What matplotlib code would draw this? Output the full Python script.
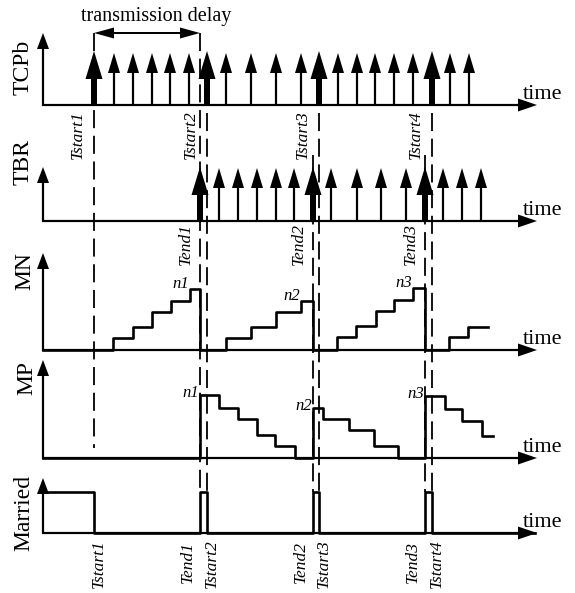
import matplotlib
matplotlib.use('Agg')
import matplotlib.pyplot as plt

plt.rcParams['font.family'] = ['Liberation Serif', 'DejaVu Serif']
plt.rcParams['lines.scale_dashes'] = False

# ---- data (time axis in picture units) ----
t_start = [94, 207, 319, 432]
t_end = [200, 313, 425]
start_labels = ['Tstart1', 'Tstart2', 'Tstart3', 'Tstart4']
end_labels = ['Tend1', 'Tend2', 'Tend3']

tcpb_pulses = [114, 133, 152, 170, 189, 226, 251, 276, 301,
               338, 357, 375, 394, 413, 450, 469]
tbr_pulses = [219, 238, 257, 276, 294, 331, 357, 381, 406, 443, 462, 481]

mn_t = [43, 113, 133, 152, 171, 190, 200, 226, 251, 276, 301, 313,
        337, 356, 376, 394, 413, 425, 449, 468, 488]
mn_v = [0, 12, 23, 38, 49, 61, 0, 12, 23, 38, 49, 0,
        13, 24, 39, 50, 62, 0, 13, 23, 23]

mp_t = [43, 200, 219, 238, 257, 275, 295, 313, 323, 349, 374, 398,
        425, 445, 462, 482, 493]
mp_v = [0, 63, 50, 39, 23, 12, 0, 50, 39, 28, 12, 0,
        62, 49, 37, 22, 22]

married_t = [43, 94, 200, 207, 313, 319, 425, 432, 535]
married_v = [41, 0, 41, 0, 41, 0, 41, 0, 0]

mn_peaks_t = [190, 301, 413]
mn_peaks_v = [61, 49, 62]
mp_peaks_t = [200, 313, 425]
mp_peaks_v = [63, 50, 62]
peak_labels = ['n1', 'n2', 'n3']

row_names = ['TCPb', 'TBR', 'MN', 'MP', 'Married']

# ---- layout ----
base = {'TCPb': 105, 'TBR': 221, 'MN': 350, 'MP': 458, 'Married': 533}
top = {'TCPb': 33, 'TBR': 167, 'MN': 253, 'MP': 360, 'Married': 478}
label_pos = {'TCPb': (23, 67), 'TBR': (23, 162), 'MN': (25, 271),
             'MP': (27, 378), 'Married': (24, 513)}
x0, x1 = 43, 537

fig = plt.figure(figsize=(5.75, 5.93), dpi=100)
ax = fig.add_axes([0, 0, 1, 1])
ax.set_xlim(0, 575)
ax.set_ylim(593, 0)
ax.axis('off')

K = 'black'


def arrow(x, y, dx, dy, w, hw, hl, z=3):
    ax.arrow(x, y, dx, dy, width=w, head_width=hw, head_length=hl,
             length_includes_head=True, fc=K, ec='none', lw=0, zorder=z)


# axes of each row
for name in row_names:
    b = base[name]
    arrow(x0, b + 1, 0, top[name] - b - 1, 2.2, 12, 16)
    arrow(x0 - 1, b, x1 - x0 + 1, 0, 2.2, 13, 19)
    ax.text(x1 - 14, b - 6, 'time', fontsize=16, ha='left', va='baseline')
    lx, ly = label_pos[name]
    ax.text(lx, ly, name, fontsize=17, rotation=90, ha='center', va='center')

# pulses
for x in tcpb_pulses:
    arrow(x, base['TCPb'], 0, -52, 2.2, 12, 20)
for x in t_start:
    arrow(x, base['TCPb'], 0, -54, 6, 17, 28)
for x in tbr_pulses:
    arrow(x, base['TBR'], 0, -53, 2.2, 12, 20)
for x in t_end:
    arrow(x, base['TBR'], 0, -54, 6, 17, 28)

# step signals
ax.plot(mn_t, [base['MN'] - v for v in mn_v], drawstyle='steps-post',
        color=K, lw=1.9, zorder=4)
ax.plot(mp_t, [base['MP'] - v for v in mp_v], drawstyle='steps-post',
        color=K, lw=1.9, zorder=4)
ax.plot(married_t, [base['Married'] - v for v in married_v],
        drawstyle='steps-post', color=K, lw=1.9, zorder=4)

# peak labels
for x, v, s in zip(mn_peaks_t, mn_peaks_v, peak_labels):
    ax.text(x - 1, base['MN'] - v - 1, s, fontsize=12, style='italic',
            ha='right', va='baseline')
for x, v, s in zip(mp_peaks_t, mp_peaks_v, peak_labels):
    ax.text(x - 1, base['MP'] - v + 2, s, fontsize=12, style='italic',
            ha='right', va='baseline')

# dashed event lines
dash = (0, (13, 5.5))
for i, x in enumerate(t_start):
    y_top = top['TCPb'] if i == 0 else base['TCPb'] + 8
    y_bot = base['MP'] - 10 if i == 0 else base['Married'] - 41
    ax.plot([x, x], [y_top, y_bot], ls=dash, color=K, lw=1.3, zorder=2)
for i, x in enumerate(t_end):
    y_top = top['TCPb'] if i == 0 else top['TBR'] - 12
    ax.plot([x, x], [y_top, base['Married'] - 41], ls=dash, color=K,
            lw=1.3, zorder=2)

# transmission delay
mid = (t_start[0] + t_end[0]) / 2
arrow(mid, top['TCPb'], t_start[0] - mid, 0, 2, 11, 20)
arrow(mid, top['TCPb'], t_end[0] - mid, 0, 2, 11, 20)
ax.text(mid + 9, 17, 'transmission delay', fontsize=14.5, ha='center',
        va='center')

# event labels
for x, s in zip(t_start, start_labels):
    ax.text(x - 16, 135, s, fontsize=12.5, style='italic', rotation=90,
            ha='center', va='center')
    ax.text(x + 5, base['Married'] + 6, s, fontsize=12.5, style='italic',
            rotation=90, ha='center', va='top')
for x, s in zip(t_end, end_labels):
    ax.text(x - 14, base['TBR'] + 2, s, fontsize=12.5, style='italic',
            rotation=90, ha='center', va='top')
    ax.text(x - 12, base['Married'] + 8, s, fontsize=12.5, style='italic',
            rotation=90, ha='center', va='top')

fig.savefig('out.png', dpi=100)
